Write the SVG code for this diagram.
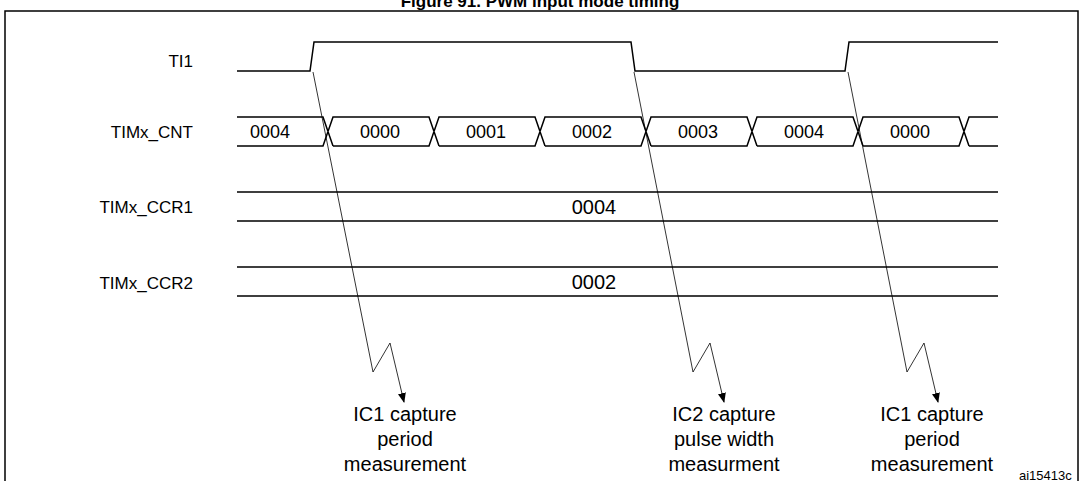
<svg xmlns="http://www.w3.org/2000/svg" width="1081" height="481" viewBox="0 0 1081 481">
<style>
text{font-family:"Liberation Sans",Arial,sans-serif;font-size:16px;fill:#000}
.lbl{text-anchor:end;font-size:17px}
.c{text-anchor:middle}
.v{font-size:18px}
.big{font-size:20px}
.w{fill:none;stroke:#000;stroke-width:1.5}
.a{fill:none;stroke:#000;stroke-width:0.8}
</style>
<defs><marker id="ah" markerWidth="10" markerHeight="10" refX="9" refY="5" orient="auto" markerUnits="userSpaceOnUse"><path d="M0,1 L10,5 L0,9 Z" fill="#000"/></marker></defs>
<rect width="1081" height="481" fill="#fff"/>
<text x="540" y="7" class="c" style="font-weight:bold;font-size:17px">Figure 91. PWM input mode timing</text>
<rect x="5" y="11" width="1073" height="480" fill="none" stroke="#000" stroke-width="1.5"/>
<g id="labels">
<text class="lbl" x="193" y="67">TI1</text>
<text class="lbl" x="193" y="138">TIMx_CNT</text>
<text class="lbl" x="193" y="213">TIMx_CCR1</text>
<text class="lbl" x="193" y="289">TIMx_CCR2</text>
</g>
<g id="TI1"><path class="w" d="M237,71 H310 L314,42 H631 L635,71 H845 L849,42 H998"/></g>
<g id="CNT">
<path class="w" d="M237,117 H323 L333,146 M237,146 H323 L333,117 H429 L439,146 M333,146 H429 L439,117 H535 L545,146 M439,146 H535 L545,117 H641 L651,146 M545,146 H641 L651,117 H747 L757,146 M651,146 H747 L757,117 H853 L863,146 M757,146 H853 L863,117 H959 L969,146 M863,146 H959 L969,117 H998 M969,146 H998"/>
<text x="270" y="138" class="c v">0004</text>
<text x="380" y="138" class="c v">0000</text>
<text x="486" y="138" class="c v">0001</text>
<text x="592" y="138" class="c v">0002</text>
<text x="698" y="138" class="c v">0003</text>
<text x="804" y="138" class="c v">0004</text>
<text x="910" y="138" class="c v">0000</text>
</g>
<g id="CCR1"><path class="w" d="M237,192 H998 M237,221 H998"/><text x="594" y="214" class="c big">0004</text></g>
<g id="CCR2"><path class="w" d="M237,267 H998 M237,296 H998"/><text x="594" y="289" class="c big">0002</text></g>
<g id="connectors">
<path class="a" d="M313,72 L373,372 L390,343 L404,402" marker-end="url(#ah)"/>
<path class="a" d="M634,72 L693,372 L710,343 L724,402" marker-end="url(#ah)"/>
<path class="a" d="M848,72 L907,372 L924,343 L938,402" marker-end="url(#ah)"/>
</g>
<g id="cap1"><text x="405" y="421" class="c big">IC1 capture</text><text x="405" y="446" class="c big">period</text><text x="405" y="471" class="c big">measurement</text></g>
<g id="cap2"><text x="724" y="421" class="c big">IC2 capture</text><text x="724" y="446" class="c big">pulse width</text><text x="724" y="471" class="c big">measurment</text></g>
<g id="cap3"><text x="932" y="421" class="c big">IC1 capture</text><text x="932" y="446" class="c big">period</text><text x="932" y="471" class="c big">measurement</text></g>
<text x="1019" y="480" style="font-size:13px">ai15413c</text>
</svg>
